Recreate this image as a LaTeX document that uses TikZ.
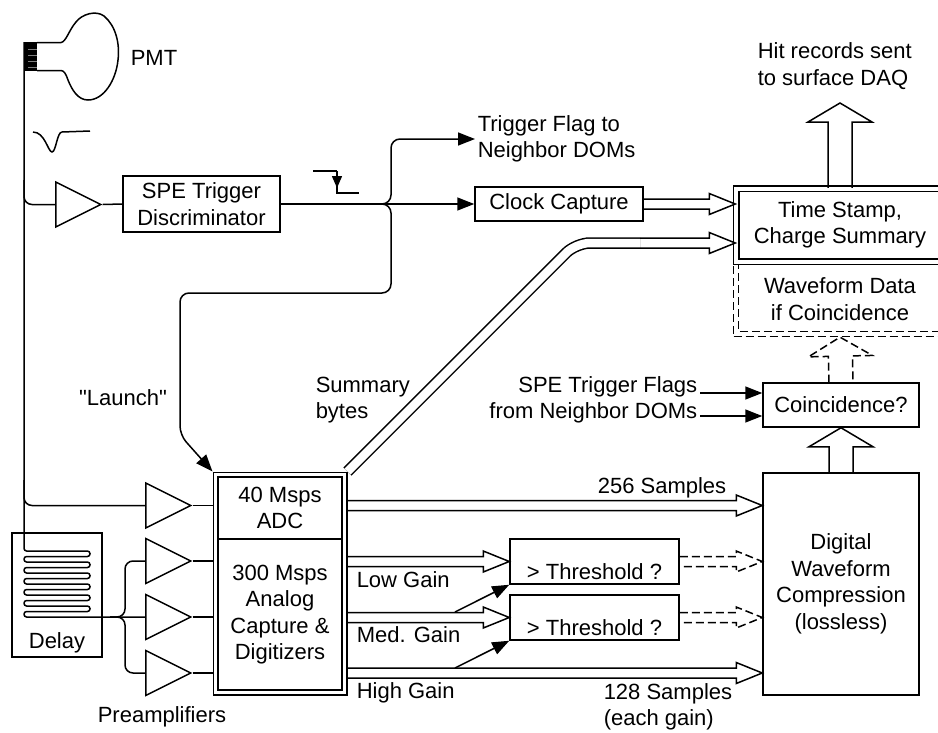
\documentclass[tikz,border=0pt]{standalone}
\usepackage{fontspec}
\setmainfont{Liberation Sans}
\usepackage{tikz}
\usetikzlibrary{shapes.geometric, arrows, arrows.meta, positioning, fit, calc}
\tikzset{hollow/.style n args={3}{to path={($(\tikztotarget)!#3!(\tikztostart)$) coordinate (hb)
  ($(\tikztostart)!#1!90:(hb)$) -- ($(hb)!#1!-90:(\tikztostart)$) -- ($(hb)!#2!-90:(\tikztostart)$)
  -- (\tikztotarget) -- ($(hb)!#2!90:(\tikztostart)$) -- ($(hb)!#1!90:(\tikztostart)$)
  -- ($(\tikztostart)!#1!-90:(hb)$)}}}
\tikzstyle{arrow} = [line width=1.5pt,-{Triangle[length=17pt,width=13pt]}]
\tikzstyle{fat} = [line width=1.5pt,hollow={5pt}{10.5pt}{26pt}]
\tikzstyle{bigfat} = [line width=1.5pt,hollow={12pt}{32pt}{19pt}]

\begin{document}
\begin{tikzpicture}[x=1pt, y=-1pt, line width=1.5pt,
   every node/.style={font=\fontsize{22}{26.5}\selectfont}]
   \tikzset{block/.style= {draw, rectangle, align=center, inner sep=0pt},
   dsh/.style={dash pattern=on 8pt off 4pt},
   amp/.style={ % requires library shapes.geometric
   draw,
   isosceles triangle,
   isosceles triangle stretches,
   minimum width=45pt,
   minimum height=45pt,
   inner sep=0pt
},
   thr/.style={block, minimum width=169pt, text height=40pt, text depth=5pt},
   txt/.style={inner sep=2pt, align=left}
   }
 \useasboundingbox (0,0) rectangle (938,732);

 % PMT and its pulse
 \fill (24,42) rectangle (37,71);
 \foreach \s in {49,55,61,67} \draw[gray, line width=0.6pt] (28,\s) -- (37,\s);
 \draw (37,42.5) -- (61,42.5) .. controls (66,42) and (69,30) .. (76,22)
   .. controls (82,14) and (96,10) .. (104,16) .. controls (116,26) and (120,44) .. (118,60)
   .. controls (116,80) and (104,100) .. (88,100) .. controls (78,100) and (72,90) .. (68,80)
   .. controls (66,74) and (64,70.5) .. (61,70.5) -- (37,70.5);
 \node [txt, anchor=west] (pmt) at (128,58) {PMT};
 \draw (33,132) .. controls (45,132) and (48,152) .. (52,152) .. controls (56,152) and (57,132) .. (62,132) -- (90,131);

 \node [amp, anchor=west] (ampS) at (55,204.5) {};
 \node [block, minimum width=157pt, minimum height=56pt] (disc) at (201.5,204) {SPE Trigger\\Discriminator};
 \node [block, minimum width=168pt, minimum height=34pt] (clk) at (559,204) {Clock Capture};
 \node [txt, anchor=west] (flag) at (475,139) {Trigger Flag to\\Neighbor DOMs};

 \draw (313,171) -- (337,171);
 \draw[-{Triangle[length=12pt,width=10pt]}] (337,171) -- (337,188);
 \draw (337,186) -- (337,193) -- (359,193);

 \node [block, dsh, minimum width=212.8pt, minimum height=74.4pt] (wfd) at (840,299.2) {Waveform Data\\if Coincidence};
 \draw[dsh] ([xshift=5.5pt]wfd.north west) -- ([shift={(5.5pt,5.5pt)}]wfd.south west) -- ([shift={(-5.5pt,5.5pt)}]wfd.south east) -- ([xshift=-5.5pt]wfd.north east);
 \node [block, double, double distance=4pt, fill=white, minimum width=208pt, minimum height=73pt] (ts) at (840,225) {Time Stamp,\\Charge Summary};
 \node [txt, anchor=west] (hit) at (755,66) {Hit records sent\\to surface DAQ};
 \coordinate (hitend) at (840,103);

 \node [block, minimum width=156pt, minimum height=44pt] (coin) at (841,405) {Coincidence?};
 \node [txt, anchor=east, align=right] (spein) at (700,400) {SPE Trigger Flags\\from Neighbor DOMs};
 \node [block, minimum width=156pt, minimum height=222pt] (dwc) at (841,584) {Digital\\Waveform\\Compression\\(lossless)};

 \node [block, minimum width=124pt, minimum height=62pt] (adc) at (280,508) {40 Msps\\ADC};
 \node [block, minimum width=124pt, minimum height=151pt] (dig) at (280,614.5) {300 Msps\\Analog\\Capture \&\\Digitizers};
 \node [draw, fit=(adc)(dig), inner sep=4pt] (fe) {};

 \node [amp, anchor=west] (amp1) at (145,505.5) {};
 \node [amp, anchor=west] (amp2) at (145,561) {};
 \node [amp, anchor=west] (amp3) at (145,617) {};
 \node [amp, anchor=west] (amp4) at (145,673) {};
 \node [block, minimum width=90pt, text height=115pt, text depth=9pt] (delay) at (57,595) {Delay};

 \node [thr] (thr1) at (594.5,561.5) {> Threshold ?};
 \node [thr] (thr2) at (594.5,617.5) {> Threshold ?};

 \node [txt, anchor=west] (low) at (354,580) {Low Gain};
 \node [txt, anchor=west] (med) at (354,635) {Med. Gain};
 \node [txt, anchor=west] (high) at (354,693) {High Gain};
 \node [txt, anchor=east] (s256) at (729,488) {256 Samples};
 \node [txt, anchor=west] (s128) at (601,707) {128 Samples\\(each gain)};
 \node [txt, anchor=west] (sum) at (313,400) {Summary\\bytes};
 \node [txt] (launch) at (123,398) {\textquotedbl Launch\textquotedbl};
 \node [txt] (pre) at (162,717) {Preamplifiers};

 % wire, delay line and preamplifiers
 \draw[rounded corners=2.6pt] (24,42) \foreach \k in {0,...,5} {-- (24,551+11*\k) -- (90,551+11*\k) -- (90,556.5+11*\k) -- (24,556.5+11*\k)} -- (24,617) -- (amp3.west);
 \draw[rounded corners=8pt] (24,180) |- (ampS.west);
 \draw[rounded corners=8pt] (24,480) |- (amp1.west);
 \draw[rounded corners=8pt] (110,617) -| (125,561) -- (amp2.west);
 \draw[rounded corners=8pt] (110,617) -| (125,673) -- (amp4.west);
 \draw (amp1.east) -- (fe.west |- amp1.east);
 \draw (amp2.east) -- (fe.west |- amp2.east);
 \draw (amp3.east) -- (fe.west |- amp3.east);
 \draw (amp4.east) -- (fe.west |- amp4.east);

 \draw (ampS.east) -- (disc.west);
 \draw[arrow] (disc.east) -- (clk.west);
 \draw[arrow, rounded corners=9pt] (376,204) -| (391,139) -- (flag.west);
 \draw[arrow, rounded corners=9pt] (376,204) -| (391,293) -| (180,435) -- (fe.north west);

 \coordinate (sumbend) at (640,243);
 \draw[fat] (clk.east) to (ts.west |- clk.east);
 \draw[double, double distance=8.5pt, rounded corners=14pt] (fe.north east) -- (576,243) -- (sumbend);
 \draw[fat] (sumbend) to (ts.west |- sumbend);
 \draw[bigfat] (ts.north) to (hitend);
 \draw[bigfat] (dwc.north) to (coin.south);
 \draw[bigfat, dsh] (coin.north) to (wfd.south);
 \draw[arrow] (spein.east |- 0,393) -- (coin.west |- 0,393);
 \draw[arrow] (spein.east |- 0,416) -- (coin.west |- 0,416);

 \draw[fat] (fe.east |- amp1.east) to (dwc.west |- amp1.east);
 \draw[fat] (fe.east |- thr1.west) to (thr1.west);
 \draw[fat] (fe.east |- thr2.west) to (thr2.west);
 \draw[fat] (fe.east |- amp4.east) to (dwc.west |- amp4.east);
 \draw[fat, dsh] (thr1.east) to (dwc.west |- thr1.east);
 \draw[fat, dsh] (thr2.east) to (dwc.west |- thr2.east);
 \coordinate (medtap) at (455,612);
 \coordinate (hightap) at (455,668);
 \draw[arrow] (medtap) -- (thr1.south west);
 \draw[arrow] (hightap) -- (thr2.south west);
\end{tikzpicture}
\end{document}
